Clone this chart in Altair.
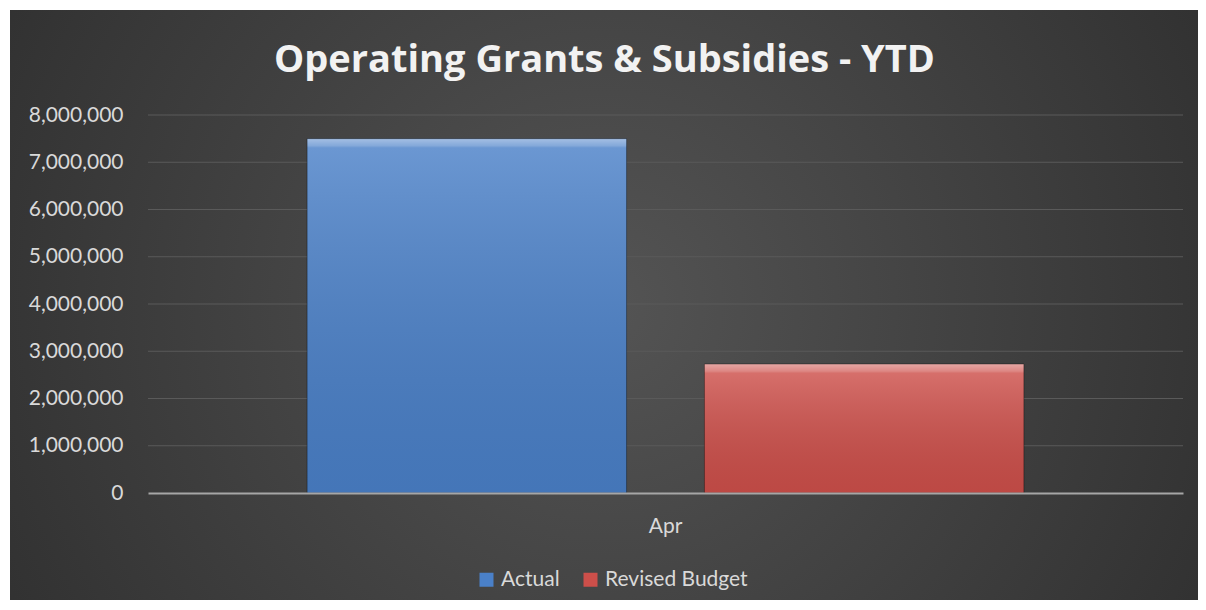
import altair as alt
import pandas as pd

# ---- data ----
months = ["Apr"]
series = ["Actual", "Revised Budget"]
values = [7500000, 2730000]
y_ticks = [0, 1000000, 2000000, 3000000, 4000000, 5000000, 6000000, 7000000, 8000000]
colors = ["#4a80c8", "#cd4f4a"]
title_text = "Operating Grants & Subsidies - YTD"

df = pd.DataFrame({"Month": [months[0]] * len(series), "Series": series, "Value": values})
grid_df = pd.DataFrame({"Value": y_ticks[1:]})

W, H = 1035, 378
PAD = {"left": 140, "top": 107, "right": 15, "bottom": 107}

font = "Lato"
label_color = "#d9d9d9"

bg_grad = alt.RadialGradient(
    gradient="radial",
    stops=[alt.GradientStop(color="#545454", offset=0), alt.GradientStop(color="#262626", offset=1)],
    x1=0.5, y1=0.5, r1=0, x2=0.5, y2=0.5, r2=0.75,
)

bg = alt.Chart(pd.DataFrame({"bg": [0]})).mark_rect(fill=bg_grad).encode(
    x=alt.value(-138), x2=alt.value(W + PAD["right"]),
    y=alt.value(-105), y2=alt.value(H + PAD["bottom"]),
)

yscale = alt.Scale(domain=[0, 8000000], nice=False)
yaxis = alt.Axis(title=None, values=y_ticks, format=",d", labelFontSize=21, labelFont=font,
                 labelColor=label_color, labelPadding=25, ticks=False, domain=False,
                 grid=False, zindex=1)

grid = alt.Chart(grid_df).mark_rule(color="#5a5a5a", strokeWidth=1).encode(
    y=alt.Y("Value:Q", scale=yscale, axis=yaxis),
    x=alt.value(0), x2=alt.value(W),
)

xenc = alt.X("Month:N", sort=months, scale=alt.Scale(paddingOuter=0.222, paddingInner=0),
             axis=alt.Axis(title=None, labelAngle=0, labelFontSize=21, labelFont=font,
                           labelColor=label_color, labelPadding=22, ticks=False,
                           domainColor="#a6a6a6", domainWidth=2, grid=False, zindex=1))
xoff = alt.XOffset("Series:N", sort=series, scale=alt.Scale(paddingInner=0.196, paddingOuter=0))
yenc = alt.Y("Value:Q", scale=yscale, axis=yaxis)

bars = alt.Chart(df).mark_bar().encode(
    x=xenc, xOffset=xoff, y=yenc,
    color=alt.Color("Series:N", sort=series, scale=alt.Scale(domain=series, range=colors),
                    legend=alt.Legend(title=None, orient="none", legendX=328, legendY=454,
                                      direction="horizontal", symbolType="square", symbolSize=196,
                                      symbolStrokeWidth=0, labelFontSize=21, labelFont=font,
                                      labelColor=label_color, columnPadding=20, padding=0,
                                      symbolOpacity=1, zindex=1)),
)

def overlay(name, hi):
    grad = alt.LinearGradient(
        gradient="linear",
        stops=[
            alt.GradientStop(color="rgba(255,255,255,0.50)", offset=0),
            alt.GradientStop(color="rgba(255,255,255,0.32)", offset=hi),
            alt.GradientStop(color="rgba(255,255,255,0.18)", offset=hi * 1.3),
            alt.GradientStop(color="rgba(0,0,0,0.08)", offset=1),
        ],
        x1=0, y1=0, x2=0, y2=1,
    )
    return alt.Chart(df).transform_filter(alt.datum.Series == name).mark_bar(
        fill=grad, stroke="rgba(0,0,0,0.35)", strokeWidth=1
    ).encode(x=alt.X("Month:N", sort=months), xOffset=alt.XOffset("Series:N", sort=series),
             y=alt.Y("Value:Q", scale=yscale))

chart = alt.layer(bg, grid, bars, overlay("Actual", 0.02), overlay("Revised Budget", 0.055)).properties(
    width=W, height=H,
    padding=PAD,
    autosize=alt.AutoSizeParams(type="none"),
    title=alt.TitleParams(text=title_text, font="Open Sans", fontSize=38, fontWeight="bold",
                          color="#f2f2f2", anchor="middle", frame="group", dx=-61, dy=70, offset=0,
                          zindex=1),
).configure(background="white").configure_view(stroke=None)

chart.save("out.html", embed_options={"renderer": "svg", "actions": False})
